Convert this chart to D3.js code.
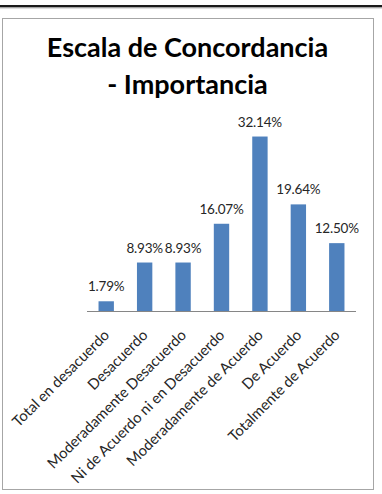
<!DOCTYPE html>
<html>
<head>
<meta charset="utf-8">
<script src="https://cdn.jsdelivr.net/npm/d3@7"></script>
<style>
  body { margin: 0; background: #fff; }
  svg { display: block; }
</style>
</head>
<body>
<div id="chart"></div>
<script>
var categories = [
  "Total en desacuerdo",
  "Desacuerdo",
  "Moderadamente Desacuerdo",
  "Ni de Acuerdo ni en Desacuerdo",
  "Moderadamente de Acuerdo",
  "De Acuerdo",
  "Totalmente de Acuerdo"
];
var values = [1.79, 8.93, 8.93, 16.07, 32.14, 19.64, 12.50];
var titleLines = ["Escala de Concordancia", "- Importancia"];

var width = 382;
var height = 494;
var font = "Lato, 'Open Sans', sans-serif";

var svg = d3.select("#chart")
  .append("svg")
  .attr("width", width)
  .attr("height", height);

// dark rule on top of the page
svg.append("rect")
  .attr("x", 0).attr("y", 5)
  .attr("width", width).attr("height", 2.5)
  .attr("fill", "#1a1a1a");
svg.append("rect")
  .attr("x", 0).attr("y", 7.5)
  .attr("width", width).attr("height", 1)
  .attr("fill", "#bdbdbd");

// chart frame
svg.append("rect")
  .attr("x", 2.5).attr("y", 18.5)
  .attr("width", 371).attr("height", 471)
  .attr("fill", "#fff")
  .attr("stroke", "#a6a6a6");

// title
svg.append("g")
  .selectAll("text")
  .data(titleLines)
  .enter()
  .append("text")
  .attr("x", 187.5)
  .attr("y", (d, i) => 57 + i * 37)
  .attr("text-anchor", "middle")
  .attr("font-family", font)
  .attr("font-weight", "bold")
  .attr("font-size", "27px")
  .attr("fill", "#000")
  .text(d => d);

var x = d3.scaleBand()
  .domain(categories)
  .range([87, 356])
  .paddingInner(0.6)
  .paddingOuter(0.3);

var y = d3.scaleLinear()
  .domain([0, 35])
  .range([311, 121]);

svg.append("g")
  .selectAll("rect")
  .data(values)
  .enter()
  .append("rect")
  .attr("x", (d, i) => x(categories[i]))
  .attr("y", d => y(d))
  .attr("width", x.bandwidth())
  .attr("height", d => y(0) - y(d))
  .attr("fill", "#4f81bd");

// value labels
svg.append("g")
  .selectAll("text")
  .data(values)
  .enter()
  .append("text")
  .attr("x", (d, i) => x(categories[i]) + x.bandwidth() / 2)
  .attr("y", d => y(d) - 10)
  .attr("text-anchor", "middle")
  .attr("font-family", font)
  .attr("font-size", "13.5px")
  .attr("letter-spacing", "-0.2px")
  .attr("fill", "#262626")
  .text(d => d.toFixed(2) + "%");

// category axis
var xAxis = svg.append("g")
  .attr("transform", "translate(0,311)")
  .call(d3.axisBottom(x).tickSize(0).tickPadding(0));

xAxis.select(".domain")
  .attr("stroke", "#868686")
  .attr("d", "M87,0.5H356");

xAxis.selectAll("text")
  .attr("font-family", font)
  .attr("font-size", "14.8px")
  .attr("fill", "#262626")
  .attr("text-anchor", "end")
  .attr("dy", 0)
  .attr("transform", "translate(4,25) rotate(-45)");
</script>
</body>
</html>
